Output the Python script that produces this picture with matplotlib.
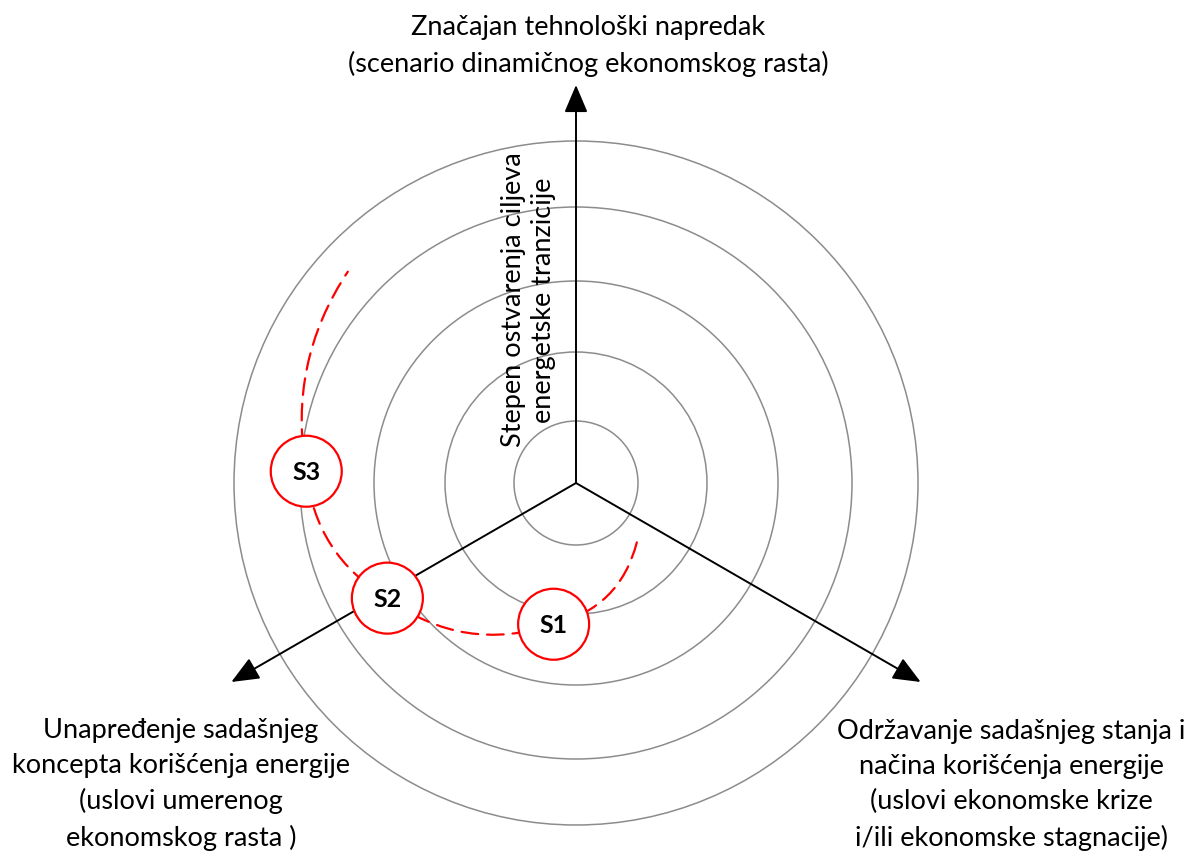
import numpy as np
import matplotlib
matplotlib.use("Agg")
import matplotlib.pyplot as plt
from matplotlib.patches import Circle, FancyArrowPatch

plt.rcParams['font.family'] = ['Lato', 'DejaVu Sans']

# concentric rings, radius in px from the centre
ring_radii = [62, 131, 202, 276, 342]

# the three scenario axes
axis_angles = [90, 210, 330]
axis_length = 398
axis_labels = [
    "Značajan tehnološki napredak\n(scenario dinamičnog ekonomskog rasta)",
    "Unapređenje sadašnjeg\nkoncepta korišćenja energije\n(uslovi umerenog\nekonomskog rasta )",
    "Održavanje sadašnjeg stanja i\nnačina korišćenja energije\n(uslovi ekonomske krize\ni/ili ekonomske stagnacije)",
]
center_label = "Stepen ostvarenja ciljeva\nenergetske tranzicije"

# scenarios on the spiral: angle (deg), radius
scen_names = ["S1", "S2", "S3"]
scen_angles = [261, 211.4, 177.5]
scen_radii = [143, 221, 270]
spiral_start = (315.7, 85)
spiral_end = (137.2, 311)
spiral_bend = [-0.3, -0.26, -0.25, -0.2]


def polar(ang, r):
    a = np.deg2rad(ang)
    return (r * np.cos(a), r * np.sin(a))


fig = plt.figure(figsize=(11.84, 8.54), dpi=100)
ax = fig.add_axes([0, 0, 1, 1])
ax.set_xlim(-576, 608)
ax.set_ylim(-370, 484)
ax.set_aspect('equal')
ax.axis('off')

for r in ring_radii:
    ax.add_patch(Circle((0, 0), r, fill=False, edgecolor='#8c8c8c', lw=1.1, zorder=1))

for ang in axis_angles:
    tip = polar(ang, axis_length)
    ax.add_patch(FancyArrowPatch((0, 0), tip,
                                 arrowstyle='-|>,head_length=0.85,head_width=0.36',
                                 mutation_scale=20, color='black', lw=1.4,
                                 shrinkA=0, shrinkB=0, zorder=2))

# dashed spiral through the scenarios
pts = [polar(*spiral_start)] + [polar(a, r) for a, r in zip(scen_angles, scen_radii)] + [polar(*spiral_end)]
for i in range(len(pts) - 1):
    ax.add_patch(FancyArrowPatch(pts[i], pts[i + 1], arrowstyle='-',
                                 connectionstyle='arc3,rad=%g' % spiral_bend[i],
                                 color='red', lw=1.6, linestyle=(0, (7.5, 4)),
                                 shrinkA=0, shrinkB=0, zorder=3))

for name, a, r in zip(scen_names, scen_angles, scen_radii):
    x, y = polar(a, r)
    ax.add_patch(Circle((x, y), 35.5, facecolor='white', edgecolor='red', lw=1.6, zorder=4))
    ax.text(x, y, name, ha='center', va='center', fontsize=18, fontweight='bold', zorder=5)

fs = 19.5
ls = 1.5
# va='baseline' lines up the last line of a block
ax.text(12, 412, axis_labels[0], ha='center', va='baseline', fontsize=fs, linespacing=ls)
ax.text(-395, -362, axis_labels[1], ha='center', va='baseline', fontsize=fs, linespacing=ls)
ax.text(435, -362, axis_labels[2], ha='center', va='baseline', fontsize=fs, linespacing=ls)
ax.text(-48, 184, center_label, ha='center', va='center', rotation=90, fontsize=fs,
        linespacing=1.25, multialignment='center')

fig.savefig('out.png', dpi=100)
